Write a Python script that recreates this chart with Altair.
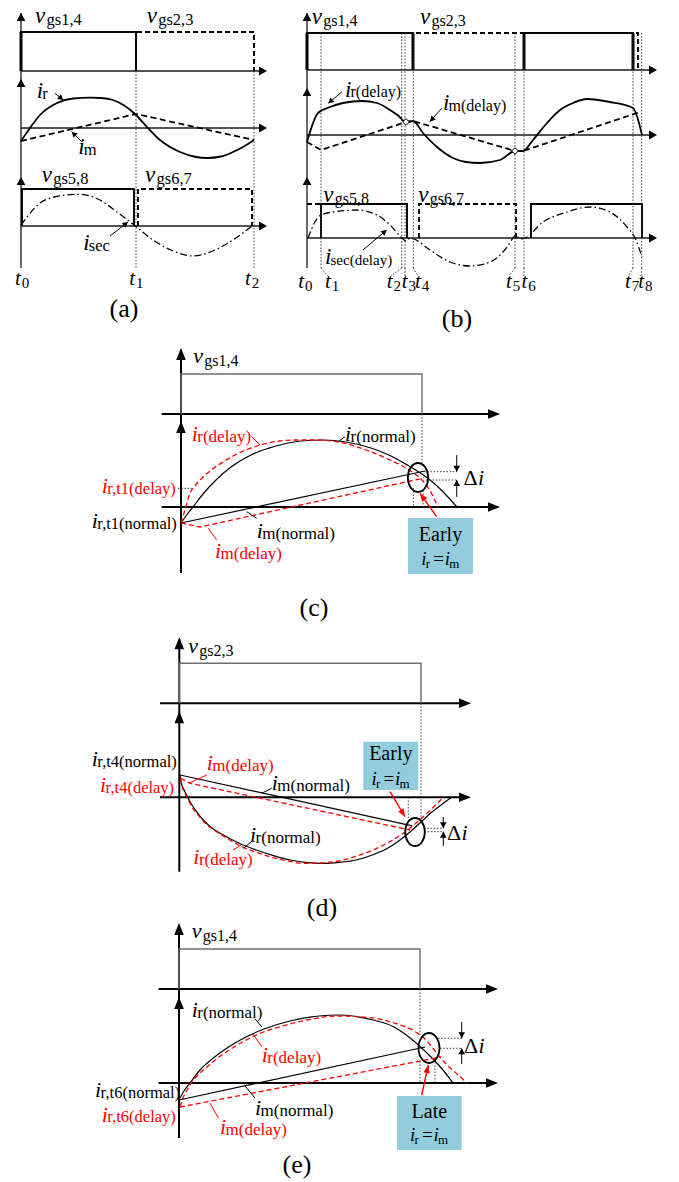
import math
import altair as alt
import pandas as pd

W, H = 679, 1182
FONT = "Liberation Serif"
RED = "#ff0000"
CYAN = "#93cddd"

# Origin of each plotting frame on the page: x of t = 0 and y of the zero line.
FR = {
    "a1": (21, 71), "a2": (21, 128), "a3": (21, 226),
    "b1": (307, 70), "b2": (307, 135), "b3": (307, 238),
    "c1": (181, 414), "c2": (181, 507),
    "d1": (179.3, 703.3), "d2": (179.3, 797.3),
    "e1": (179, 989), "e2": (179, 1083),
}

# ---------------- (a) normal operation, t0 .. t2 ----------------
a_g14_t = [0, 0, 115, 115]
a_g14 = [0, 39, 39, 0]
a_g23_t = [115, 115, 233, 233]
a_g23 = [0, 39, 39, 0]
a_ir_t = [0, 9, 19, 36, 52, 69, 80, 92, 104, 114, 126, 139, 159, 175, 186, 200, 212, 222, 233]
a_ir = [-13, 0, 13, 25, 29.5, 30.3, 30, 28, 22, 14, 1, -12, -24, -29, -30, -28.5, -24, -19, -12]
a_im_t = [0, 115, 233]
a_im = [-13, 14, -12]
a_g58_t = [1, 1, 113, 113]
a_g58 = [0, 37, 37, 0]
a_g67_t = [117, 117, 231, 231]
a_g67 = [0, 37, 37, 0]
a_isec_t = [0, 6, 19, 33, 46, 59, 79, 96, 113, 132, 150, 172, 194, 212, 231]
a_isec = [1, 9, 23, 29, 31, 31.7, 26, 14, 1, -14, -24, -30, -24, -14, 0]

# ---------------- (b) delayed gate signals, t0 .. t8 ----------------
b_marks = [14, 94.7, 98, 106.3, 208, 217, 326, 334.7]          # t1 .. t8
b_g14_t = [0, 0, 106, 106]
b_g14 = [0, 37, 37, 0]
b_g14b_t = [217, 217, 326, 326]
b_g23_t = [106, 106, 217, 217]
b_g23 = [0, 37, 37, 0]
b_g23b_t = [326, 326, 331, 331]
b_ir_t = [0, 11, 23, 36, 55, 70, 83, 91, 99, 106, 116, 130, 146, 159, 173, 193, 208, 216,
          226, 240, 253, 266, 280, 303, 326, 335]
b_ir = [-7, 22, 28, 32, 34, 32, 25, 19.5, 13, 14, 2, -12, -23, -27, -28, -25, -16, -16,
        -5, 12, 25, 32, 36, 33, 27, 0]
b_im_t = [0, 14, 99, 106, 208, 216, 333]
b_im = [-7, -15, 13, 14, -16, -16, 23]
b_meet_t = [99, 208]
b_meet = [13, -16]
b_g58_t = [14, 14, 100, 100]
b_g58 = [0, 34, 34, 0]
b_g58b_t = [224, 224, 335, 335]
b_g67_t = [0, 14]
b_g67 = [34, 34]
b_g67b_t = [112, 112, 209, 209]
b_g67b = [0, 34, 34, 0]
b_isec_t = [1, 8, 14, 26, 50, 70, 83, 95, 99, 103, 107, 123, 143, 163, 183, 200, 206, 209,
            213, 218, 236, 260, 283, 303, 320, 328, 335]
b_isec = [0, 16, 23, 26, 28, 23, 13, 0, -3, 0, -1, -12, -24, -28, -24, -9, 0, 3,
          -1, 0, 16, 26, 31, 26, 11, 0, -19]

# ---------------- (c) v_gs1,4 interval, early crossing ----------------
c_g_t = [0, 0, 241, 241]
c_g = [0, 40, 40, 0]
c_irn_t = [0, 5, 12, 22, 35, 50, 70, 95, 120, 142, 165, 190, 210, 228, 241, 255, 266, 276]
c_irn = [-16, -9, 0, 13, 27, 40, 52, 61, 66, 67, 65, 59, 51, 41, 33, 22, 11, 0]
c_ird_t = [0, 4, 9, 13, 19, 29, 42, 60, 76, 95, 115, 136, 160, 185, 209, 225, 234, 241, 248, 257]
c_ird = [-16, -3, 14, 20, 27, 36, 45, 55, 61, 65.5, 67, 67, 64.5, 57, 47, 39, 33, 27, 18, 0]
c_imn_t = [0, 244]
c_imn = [-16, 36]
c_imd_t = [0, 19, 243]
c_imd = [-16, -20, 29]

# ---------------- (d) v_gs2,3 interval, early crossing ----------------
d_g_t = [0, 0, 241.7, 241.7]
d_g = [0, 40, 40, 0]
d_irn_t = [0.7, 1.4, 3.5, 5.7, 10.7, 17, 24, 33, 44, 60, 77, 95, 111, 128, 144, 160, 177, 195,
           211, 221, 231, 241, 251, 262, 272.4]
d_irn = [22.3, 17, 10, 5.6, -4.4, -14, -22.7, -31, -37.7, -46, -52.7, -58.5, -62.7, -65.3, -66,
         -65, -62.7, -57, -49.4, -42.5, -34.4, -25.5, -16, -7.5, 0]
d_ird_t = [1.4, 2.4, 4.5, 7.4, 12, 17.4, 26, 37.4, 50, 64, 77, 90.7, 107, 124, 144, 164, 181,
           197.4, 211, 224, 234, 244, 254, 264]
d_ird = [19, 12.3, 6, 0.6, -8.5, -16, -26, -34.4, -42.5, -50, -55, -59.4, -63.3, -66, -65.5,
         -62.7, -57.5, -51, -44, -36, -28, -19.4, -10, 0]
d_imn_t = [0.7, 233]
d_imn = [22.3, -28.5]
d_imd_t = [1.4, 10.7, 230.7]
d_imd = [19, 14, -32.7]

# ---------------- (e) v_gs1,4 interval, late crossing ----------------
e_g_t = [0, 0, 241, 241]
e_g = [0, 40, 40, 0]
e_irn_t = [0, 5, 11, 21, 33, 48, 65, 85, 111, 140, 160, 194, 215, 228, 241, 254, 264, 274]
e_irn = [-17, -8, 0, 13, 24, 35, 45, 54, 62, 67, 68, 63, 56, 47.5, 36.5, 24, 13, 0]
e_ird_t = [1, 4, 8, 13, 20, 28, 40, 55, 75, 100, 128, 158, 190, 215, 235, 245, 253, 260, 268,
           278, 288]
e_ird = [-24, -15, -7, 1, 9, 16, 26, 36, 47, 56, 63, 67, 65.5, 60, 52, 45, 36, 27, 18, 9, 0]
e_imn_t = [0, 246]
e_imn = [-17, 36]
e_imd_t = [1, 262]
e_imd = [-24, 26]

# ====================== drawing helpers ======================
rows, heads, runs = [], [], []
_seg = [0]


def put(style, xs, ys):
    _seg[0] += 1
    for k, (x, y) in enumerate(zip(xs, ys)):
        rows.append(dict(style=style, seg=_seg[0], k=k, x=x, y=y))


def wave(style, frame, t, a):
    ox, oy = FR[frame]
    put(style, [ox + v for v in t], [oy - v for v in a])


def head(x0, y0, x1, y1, r, color="black", kind="n"):
    ang = math.degrees(math.atan2(x1 - x0, -(y1 - y0))) % 360
    heads.append(dict(x=x1, y=y1, ang=ang, sz=(2 * r) ** 2, col=color, kind=kind))


def arrow(style, x0, y0, x1, y1, r, color="black", kind="n"):
    put(style, [x0, x1], [y0, y1])
    head(x0, y0, x1, y1, r, color, kind)


def txt(x, y, s, size, italic=False, color="black", align="left"):
    runs.append(dict(x=x, y=y, s=s, fs=size, it=italic, col=color, al=align))


def sym(x, y, main, sub, ms=22, ss=17, color="black", gap=5.6, drop=0.5):
    txt(x, y, main, ms, True, color)
    txt(x + gap, y + drop, sub, ss, False, color)


def equal_label(x, y):
    sym(x, y, "i", "r", 19, 13, gap=4.6, drop=2.5)
    txt(x + 12, y, "=", 19)
    sym(x + 23.5, y, "i", "m", 19, 13, gap=4.6, drop=2.5)


# ---------------- (a) ----------------
put("axis_ab", [21, 21], [13, 268])
for yt in (13, 79, 177):
    head(21, yt + 10, 21, yt, 8, kind="w")
for fr in ("a1", "a2", "a3"):
    oy = FR[fr][1]
    put("axis_ab", [21, 262], [oy, oy])
    head(255, oy, 267, oy, 8, kind="w")
put("dot", [136, 136], [71, 268])
put("dot", [254, 254], [71, 268])
wave("gate", "a1", a_g14_t, a_g14)
wave("edge", "a1", [0, 0], [0, 39])
wave("gate_dash", "a1", a_g23_t, a_g23)
wave("cur", "a2", a_ir_t, a_ir)
wave("cur_dash", "a2", a_im_t, a_im)
wave("gate", "a3", a_g58_t, a_g58)
wave("gate_dash", "a3", a_g67_t, a_g67)
wave("dashdot", "a3", a_isec_t, a_isec)
arrow("lead_k", 55, 93.3, 63.3, 100, 5.5, kind="w")
arrow("lead_k", 81.7, 141.7, 71.7, 131.7, 5.5, kind="w")
arrow("lead_k", 110, 236, 128, 222, 5.5, kind="w")

sym(35, 23.3, "v", "gs1,4", 23, 16.5, gap=11.5, drop=2)
sym(146.7, 23.3, "v", "gs2,3", 23, 16.5, gap=11.5, drop=2)
sym(36.7, 98, "i", "r", 23, 16.5, gap=5.5, drop=1)
sym(78.3, 153.5, "i", "m", 23, 16.5, gap=5.5, drop=1)
sym(41.7, 181.7, "v", "gs5,8", 23, 16.5, gap=11.5, drop=2)
sym(145, 181.7, "v", "gs6,7", 23, 16.5, gap=11.5, drop=2)
sym(83.3, 250, "i", "sec", 23, 16.5, gap=5.5, drop=1)
for xt, n in zip([15, 129.3, 245], "012"):
    sym(xt, 285, "t", n, 21, 15, gap=6.7, drop=3)
txt(124, 317, "(a)", 26, align="center")

# ---------------- (b) ----------------
put("axis_ab", [307, 307], [13, 268])
for yt in (13, 88, 177):
    head(307, yt + 10, 307, yt, 8, kind="w")
for fr in ("b1", "b2", "b3"):
    oy = FR[fr][1]
    put("axis_ab", [307, 652], [oy, oy])
    head(645, oy, 657, oy, 8, kind="w")
label_cx = [331, 394, 408, 421, 512, 527, 631, 644]
for m, cx in zip(b_marks, label_cx):
    xm = FR["b1"][0] + m
    put("dot", [xm, xm], [33, 268])
    put("dot", [xm, cx - 3], [268, 276])
wave("gate", "b1", b_g14_t, b_g14)
wave("gate", "b1", b_g14b_t, b_g14)
for m in (0, 106, 217, 326):
    wave("edge", "b1", [m, m], [0, 37])
wave("gate_dash", "b1", b_g23_t, b_g23)
wave("gate_dash", "b1", b_g23b_t, b_g23)
wave("cur", "b2", b_ir_t, b_ir)
wave("cur_dash", "b2", b_im_t, b_im)
wave("gate", "b3", b_g58_t, b_g58)
wave("gate", "b3", b_g58b_t, b_g58)
wave("gate_dash", "b3", b_g67_t, b_g67)
wave("gate_dash", "b3", b_g67b_t, b_g67b)
wave("dashdot", "b3", b_isec_t, b_isec)
arrow("lead_k", 341.7, 92, 328.3, 103.3, 5.5, kind="w")
arrow("lead_k", 441.7, 108.3, 430, 121.7, 5.5, kind="w")
arrow("lead_k", 363, 250, 386.7, 230, 5.5, kind="w")

sym(311.7, 24, "v", "gs1,4", 23, 16, gap=11.5, drop=2)
sym(420, 24, "v", "gs2,3", 23, 16, gap=11.5, drop=2)
sym(345, 96.5, "i", "r(delay)", 23, 16, gap=5.5, drop=0.5)
sym(443, 110, "i", "m(delay)", 23, 16, gap=5.5, drop=0.5)
sym(323.3, 201.5, "v", "gs5,8", 23, 16, gap=11.5, drop=2)
sym(418.3, 201.5, "v", "gs6,7", 23, 16, gap=11.5, drop=2)
sym(325, 264, "i", "sec(delay)", 23, 15, gap=5.5, drop=0.5)
for xt, n in zip([298.3, 325, 386.7, 401.7, 415, 506, 521.5, 625, 638.3], "012345678"):
    sym(xt, 288, "t", n, 21, 15, gap=6.7, drop=3)
txt(457, 327, "(b)", 26, align="center")


# ---------------- (c), (d), (e): shared layout ----------------
def frame_axes(f1, f2, left, tip, bottom):
    ox, oy1 = FR[f1]
    oy2 = FR[f2][1]
    top1 = oy1 - 66
    top2 = oy2 - 86
    put("axis_cde", [ox, ox], [top1 + 2, bottom])
    head(ox, top1 + 12, ox, top1, 12, kind="n")
    head(ox, top2 + 12, ox, top2, 12, kind="n")
    for oy in (oy1, oy2):
        put("axis_cde", [left, tip - 8], [oy, oy])
        head(tip - 12, oy, tip, oy, 12, kind="n")


frame_axes("c1", "c2", 161.7, 500, 573)
frame_axes("d1", "d2", 160, 471, 871.7)
frame_axes("e1", "e2", 158.5, 498, 1138)

# (c)
wave("gate_thin", "c1", c_g_t, c_g)
wave("cur_k", "c2", c_irn_t, c_irn)
wave("cur_r", "c2", c_ird_t, c_ird)
wave("lin_k", "c2", c_imn_t, c_imn)
wave("lin_r", "c2", c_imd_t, c_imd)
put("dot", [422, 422], [414, 463])
put("dot", [413.3, 413.3], [488, 507])
put("dot", [423.3, 423.3], [490, 507])
put("dot", [424, 456.7], [471.7, 471.7])
put("dot", [426, 456.7], [480, 480])
put("dot", [178, 193], [488.3, 488.3])
arrow("lead_k", 456.7, 455, 456.7, 471.7, 6, kind="w")
arrow("lead_k", 456.7, 497, 456.7, 480, 6, kind="w")
arrow("arr_r", 436.7, 516.7, 420, 493.3, 8, RED, "n")
put("lead_r", [251.7, 260], [436.7, 445])
put("lead_k", [345, 338.3], [436.7, 441.7])
put("lead_k", [256.7, 246.7], [518.3, 511.7])
put("lead_r", [216.7, 208.3], [540, 528.3])

sym(193.3, 363, "v", "gs1,4", 22, 16, gap=11, drop=2.5)
sym(191.7, 441, "i", "r(delay)", color=RED)
sym(345, 441, "i", "r(normal)")
sym(101.7, 493, "i", "r,t1(delay)", ss=16.5, color=RED)
sym(91.7, 528, "i", "r,t1(normal)", ss=16.5)
sym(256.7, 538, "i", "m(normal)")
sym(215, 558, "i", "m(delay)", color=RED)
txt(463.5, 485, "Δ", 22)
txt(478, 485, "i", 22, True)
txt(440.5, 541, "Early", 20, align="center")
equal_label(421.2, 565)
txt(314, 616, "(c)", 26, align="center")

# (d)
wave("gate_thin", "d1", d_g_t, d_g)
wave("cur_k", "d2", d_irn_t, d_irn)
wave("cur_r", "d2", d_ird_t, d_ird)
wave("lin_k", "d2", d_imn_t, d_imn)
wave("lin_r", "d2", d_imd_t, d_imd)
put("dot", [421, 421], [703.3, 818])
put("dot", [408.3, 408.3], [797.3, 820])
put("dot", [424, 443.3], [828.3, 828.3])
put("dot", [424.5, 443.3], [831.7, 831.7])
arrow("lead_k", 443.3, 817, 443.3, 828.3, 6, kind="w")
arrow("lead_k", 443.3, 846, 443.3, 831.7, 6, kind="w")
arrow("arr_r", 390, 791.7, 405, 816.7, 8, RED, "n")
put("lead_r", [206.7, 190], [775, 782.7])
put("lead_k", [271.7, 261.7], [788.3, 793.3])
put("lead_k", [253.3, 243.3], [840, 848.3])
put("lead_r", [233, 241], [850, 845])

sym(188.3, 653, "v", "gs2,3", 22, 16, gap=11, drop=2.5)
sym(91.7, 766, "i", "r,t4(normal)", ss=16.5)
sym(206.7, 770, "i", "m(delay)", color=RED)
sym(100, 792, "i", "r,t4(delay)", ss=16.5, color=RED)
sym(271.7, 790, "i", "m(normal)")
sym(250, 842, "i", "r(normal)")
sym(193.3, 864, "i", "r(delay)", color=RED)
txt(447, 840, "Δ", 22)
txt(461.5, 840, "i", 22, True)
txt(390.8, 760, "Early", 20, align="center")
equal_label(371.5, 785)
txt(322, 916, "(d)", 26, align="center")

# (e)
wave("gate_thin", "e1", e_g_t, e_g)
wave("cur_k", "e2", e_irn_t, e_irn)
wave("cur_r", "e2", e_ird_t, e_ird)
wave("lin_k", "e2", e_imn_t, e_imn)
wave("lin_r", "e2", e_imd_t, e_imd)
put("dot", [420, 420], [989, 1035])
put("dot", [420, 420], [1061, 1083])
put("dot", [435, 435], [1062, 1083])
put("dot", [438, 461.7], [1038.3, 1038.3])
put("dot", [440, 461.7], [1048.3, 1048.3])
arrow("lead_k", 461.7, 1022, 461.7, 1038.3, 6, kind="w")
arrow("lead_k", 461.7, 1064, 461.7, 1048.3, 6, kind="w")
arrow("arr_r", 421.7, 1095, 428.3, 1065, 8, RED, "n")
put("lead_k", [255, 262], [1019, 1027])
put("lead_r", [253, 262], [1034, 1047])
put("lead_k", [245, 255], [1086, 1098])
put("lead_r", [210, 218.3], [1103, 1118])

sym(191.7, 938, "v", "gs1,4", 22, 16, gap=11, drop=2.5)
sym(191.7, 1017, "i", "r(normal)")
sym(261.7, 1062, "i", "r(delay)", color=RED)
sym(95, 1097, "i", "r,t6(normal)", ss=16.5)
sym(101.7, 1121.5, "i", "r,t6(delay)", ss=16.5, color=RED)
sym(255, 1115, "i", "m(normal)")
sym(220, 1134, "i", "m(delay)", color=RED)
txt(464, 1053, "Δ", 22)
txt(478.5, 1053, "i", 22, True)
txt(429.3, 1118, "Late", 20, align="center")
equal_label(410, 1141)
txt(297, 1173, "(e)", 26, align="center")

# highlighted crossing points and note boxes
rings = pd.DataFrame({"x": [418, 415, 429], "y": [477.5, 832, 1048],
                      "sz": [4 * 14.5 ** 2, 4 * 14 ** 2, 4 * 15 ** 2]})
boxes = pd.DataFrame({"x": [408, 363.3, 397], "x2": [473, 418.3, 461.7],
                      "y": [518, 741.7, 1096], "y2": [574, 790, 1150]})
ox_b, oy_b = FR["b2"]
meets = pd.DataFrame({"x": [ox_b + v for v in b_meet_t], "y": [oy_b - v for v in b_meet]})

STY = {
    "axis_ab": dict(color="#1a1a1a", strokeWidth=1.3),
    "axis_cde": dict(color="black", strokeWidth=2),
    "gate": dict(color="black", strokeWidth=1.9),
    "edge": dict(color="black", strokeWidth=3),
    "gate_dash": dict(color="black", strokeWidth=1.9, strokeDash=[5, 3]),
    "gate_thin": dict(color="#6e6e6e", strokeWidth=1.4),
    "cur": dict(color="black", strokeWidth=1.8, interpolate="monotone"),
    "cur_dash": dict(color="black", strokeWidth=1.8, strokeDash=[6, 3.5]),
    "dashdot": dict(color="black", strokeWidth=1.3, strokeDash=[7, 3, 1.5, 3], interpolate="monotone"),
    "cur_k": dict(color="black", strokeWidth=1.2, interpolate="monotone"),
    "cur_r": dict(color=RED, strokeWidth=1.3, strokeDash=[5, 3], interpolate="monotone"),
    "lin_k": dict(color="black", strokeWidth=1.2),
    "lin_r": dict(color=RED, strokeWidth=1.3, strokeDash=[5, 3]),
    "dot": dict(color="#333333", strokeWidth=0.9, strokeDash=[1.6, 1.6]),
    "lead_k": dict(color="black", strokeWidth=1),
    "lead_r": dict(color=RED, strokeWidth=1),
    "arr_r": dict(color=RED, strokeWidth=1.4),
}

XS = alt.Scale(domain=[0, W], range=[0, W], nice=False, zero=False)
YS = alt.Scale(domain=[0, H], range=[0, H], nice=False, zero=False)


def xy():
    return dict(x=alt.X("x:Q", scale=XS, axis=None), y=alt.Y("y:Q", scale=YS, axis=None))


layers = [alt.Chart(boxes).mark_rect(color=CYAN).encode(
    x2="x2:Q", y2="y2:Q", **xy())]

lines = pd.DataFrame(rows)
for name, props in STY.items():
    part = lines[lines["style"] == name]
    if part.empty:
        continue
    layers.append(alt.Chart(part).mark_line(**props).encode(
        detail="seg:N", order="k:Q", **xy()))

TRI = {"n": "M0,0L-0.4,1L0.4,1Z", "w": "M0,0L-0.55,1L0.55,1Z"}
hd = pd.DataFrame(heads)
for kind, path in TRI.items():
    part = hd[hd["kind"] == kind]
    layers.append(alt.Chart(part).mark_point(shape=path, filled=True, opacity=1, strokeWidth=0).encode(
        angle=alt.Angle("ang:Q", scale=None),
        size=alt.Size("sz:Q", scale=None),
        color=alt.Color("col:N", scale=None), **xy()))

ELLIPSE = ("M0.7,0C0.7,0.552 0.387,1 0,1C-0.387,1 -0.7,0.552 -0.7,0"
           "C-0.7,-0.552 -0.387,-1 0,-1C0.387,-1 0.7,-0.552 0.7,0Z")
layers.append(alt.Chart(rings).mark_point(shape=ELLIPSE, filled=False, color="black",
                                          strokeWidth=1.8, opacity=1).encode(
    size=alt.Size("sz:Q", scale=None), **xy()))
layers.append(alt.Chart(meets).mark_point(shape="diamond", filled=True, fill="white",
                                          stroke="black", strokeWidth=1, size=45, opacity=1).encode(**xy()))

tx = pd.DataFrame(runs)
for (italic, align), part in tx.groupby(["it", "al"]):
    layers.append(alt.Chart(part).mark_text(
        font=FONT, align=align, baseline="alphabetic",
        fontStyle="italic" if italic else "normal").encode(
        text="s:N", size=alt.Size("fs:Q", scale=None),
        color=alt.Color("col:N", scale=None), **xy()))

chart = alt.layer(*layers).properties(
    width=W, height=H, padding=0,
    autosize=alt.AutoSizeParams(type="none"), background="white",
).configure_view(strokeWidth=0)

chart.save("out.html", embed_options={"renderer": "svg", "actions": False})
